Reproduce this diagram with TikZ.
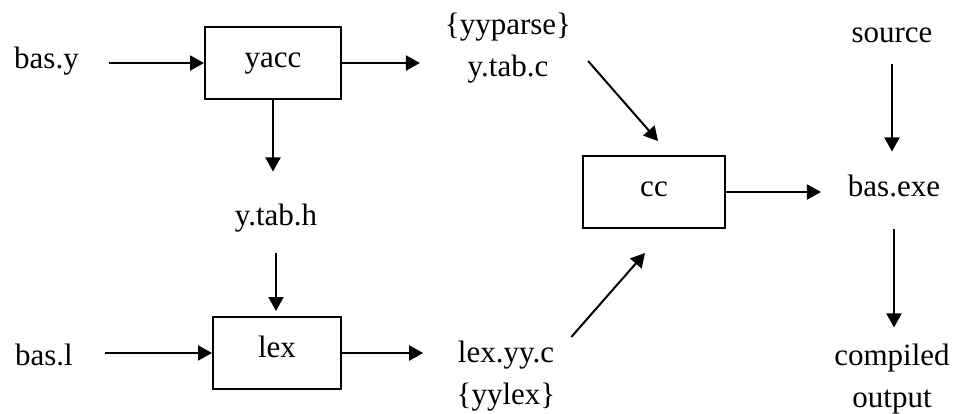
\documentclass[tikz,border=0pt]{standalone}
\usepackage{fontspec}
\setmainfont{Liberation Serif}
\usetikzlibrary{arrows.meta}
\begin{document}
\begin{tikzpicture}[x=1pt,y=-1pt,line width=2pt,
		every node/.style={font=\fontsize{31}{42}\selectfont,inner sep=0pt},
		prog/.style={draw,text height=14pt,text depth=6pt,minimum height=72pt},
		flow/.style={-{Triangle[length=14pt,width=15pt]}}]
	\useasboundingbox (0,0) rectangle (956,413);
	% the three tools
	\node[prog,minimum width=136pt] (yacc) at (273,63) {yacc};
	\node[prog,minimum width=128pt] (lex) at (277,353) {lex};
	\node[prog,minimum width=142pt] (cc) at (654,192) {cc};
	% files
	\node[anchor=base] (basy) at (46.5,68) {bas.y};
	\node[anchor=base] (basl) at (44,365) {bas.l};
	\node[anchor=base] (ytabh) at (276,225) {y.tab.h};
	\node[align=center] (ytabc) at (508,48) {\{yyparse\}\\y.tab.c};
	\node[align=center] (lexyyc) at (506,376) {lex.yy.c\\\{yylex\}};
	\node[anchor=base] (source) at (892,42) {source};
	\node[anchor=base] (basexe) at (894,196) {bas.exe};
	\node[align=center] (output) at (892,379.5) {compiled\\output};
	% connections
	\draw[flow,shorten <=29pt] (yacc.west -| basy.east) -- (yacc.west);
	\draw[flow,shorten >=24pt] (yacc.east) -- (yacc.east -| ytabc.west);
	\draw[flow,shorten >=31pt] (yacc.south) -- (yacc.south |- ytabh.north);
	\draw[flow,shorten <=20pt,shorten >=5pt] (ytabh.south) -- (ytabh.south |- lex.north);
	\draw[flow,shorten <=31pt] (lex.west -| basl.east) -- (lex.west);
	\draw[flow,shorten >=32.5pt] (lex.east) -- (lex.east -| lexyyc.west);
	\draw[flow] ([shift={(16,13)}]ytabc.east) -- ([shift={(4,-14)}]cc.north);
	\draw[flow] ([shift={(15,-39)}]lexyyc.east) -- ([shift={(-9,24)}]cc.south);
	\draw[flow,shorten >=26pt] (cc.east) -- (cc.east -| basexe.west);
	\draw[flow,shorten <=21pt,shorten >=22pt] (source.south) -- (source.south |- basexe.north);
	\draw[flow,shorten <=32pt,shorten >=16pt] (basexe.south) -- (basexe.south |- output.north);
\end{tikzpicture}
\end{document}
